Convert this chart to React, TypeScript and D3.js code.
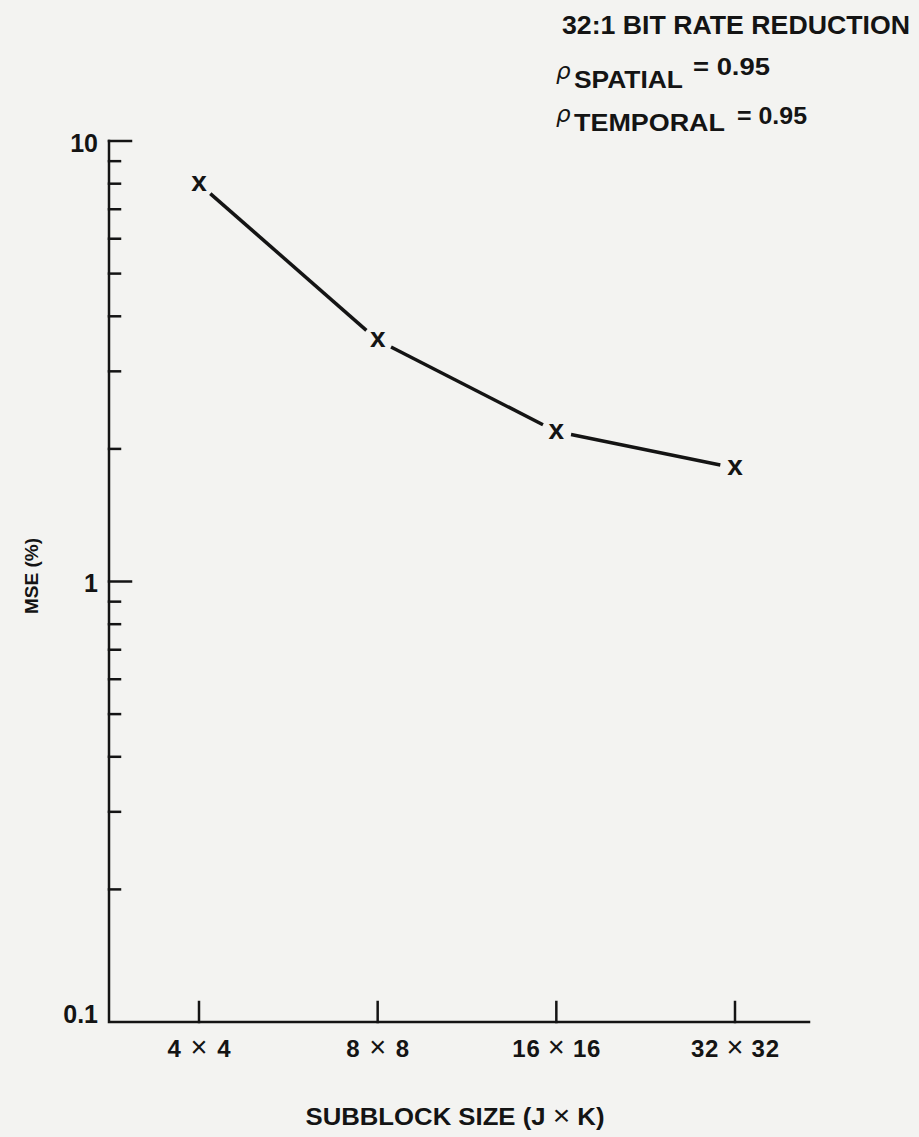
import { useEffect } from 'react'
import * as d3 from 'd3'

const categories = ['4 × 4', '8 × 8', '16 × 16', '32 × 32']
const mse = [8.0, 3.53, 2.19, 1.81]
const yMajor = [0.1, 1, 10]
const yLabels = ['0.1', '1', '10']

const W = 919
const H = 1137
const INK = '#141414'
const FONT = '"Liberation Sans", Arial, Helvetica, sans-serif'
const GREEK = '"DejaVu Sans", sans-serif'

export default function App() {
  useEffect(() => {
    document.body.style.margin = '0'
  }, [])

  const axisX = 109
  const axisRight = 809
  const y = d3.scaleLog().domain([0.1, 10]).range([1022, 141])
  const x = d3.scalePoint<string>().domain(categories).range([199, 735]).padding(0)

  const minor = y.ticks().filter((t) => !yMajor.some((m) => Math.abs(m - t) < 1e-9))
  const pts = categories.map((c, i) => [x(c) as number, y(mse[i])] as [number, number])

  // line segments with gaps round the "x" markers
  const gap = 15
  const segs = d3.pairs(pts).map(([a, b]) => {
    const dx = b[0] - a[0]
    const dy = b[1] - a[1]
    const len = Math.hypot(dx, dy)
    const ux = dx / len
    const uy = dy / len
    return [
      [a[0] + ux * gap, a[1] + uy * gap],
      [b[0] - ux * gap, b[1] - uy * gap],
    ] as [number, number][]
  })
  const line = d3.line()

  return (
    <svg width={W} height={H} style={{ display: 'block' }} fontFamily={FONT}>
      <rect width={W} height={H} fill="#f3f3f1" />

      {/* annotation */}
      <g fill={INK} fontWeight="bold">
        <text x={562} y={34} fontSize={26} textLength={348} lengthAdjust="spacingAndGlyphs">
          32:1 BIT RATE REDUCTION
        </text>
        <text x={556} y={79} fontSize={23} fontStyle="italic" fontWeight="normal" fontFamily={GREEK}>
          ρ
        </text>
        <text x={574} y={88} fontSize={23} textLength={109} lengthAdjust="spacingAndGlyphs">
          SPATIAL
        </text>
        <text x={693} y={75} fontSize={24} textLength={77} lengthAdjust="spacingAndGlyphs">
          = 0.95
        </text>
        <text x={556} y={122} fontSize={23} fontStyle="italic" fontWeight="normal" fontFamily={GREEK}>
          ρ
        </text>
        <text x={574} y={131} fontSize={23} textLength={151} lengthAdjust="spacingAndGlyphs">
          TEMPORAL
        </text>
        <text x={737} y={124} fontSize={24} textLength={70} lengthAdjust="spacingAndGlyphs">
          = 0.95
        </text>
      </g>

      {/* axes */}
      <g stroke={INK} strokeWidth={2.5} fill="none" strokeLinecap="square">
        <path d={`M${axisX},${y(10)} V${y(0.1)} H${axisRight}`} />
        {yMajor.slice(1).map((t) => (
          <line key={t} x1={axisX} x2={axisX + 22} y1={y(t)} y2={y(t)} />
        ))}
        {minor.map((t) => (
          <line key={t} x1={axisX} x2={axisX + 11} y1={y(t)} y2={y(t)} />
        ))}
        {categories.map((c) => (
          <line key={c} x1={x(c)} x2={x(c)} y1={y(0.1)} y2={y(0.1) - 20} />
        ))}
      </g>

      <g fill={INK} fontWeight="bold" fontSize={25} textAnchor="end">
        {yMajor.map((t, i) => (
          <text key={t} x={98} y={y(t)} dy={i === 0 ? '0.05em' : '0.42em'}>
            {yLabels[i]}
          </text>
        ))}
      </g>

      <g fill={INK} fontWeight="bold" fontSize={24} textAnchor="middle">
        {categories.map((c) => {
          const [a, b] = c.split(' × ')
          return (
            <text key={c} x={x(c)} y={1057} textLength={a.length > 1 ? 88 : 63} lengthAdjust="spacing">
              <tspan>{a} </tspan>
              <tspan fontWeight="normal" fontSize={29}>×</tspan>
              <tspan> {b}</tspan>
            </text>
          )
        })}
      </g>

      <text
        x={455}
        y={1125}
        fill={INK}
        fontWeight="bold"
        fontSize={24}
        textAnchor="middle"
        textLength={299}
        lengthAdjust="spacingAndGlyphs"
      >
        SUBBLOCK SIZE (J <tspan fontWeight="normal" fontSize={28}>×</tspan> K)
      </text>

      <text
        transform={`translate(38,576) rotate(-90)`}
        fill={INK}
        fontWeight="bold"
        fontSize={19}
        textAnchor="middle"
      >
        MSE (%)
      </text>

      {/* data */}
      <g stroke={INK} strokeWidth={3.5} fill="none">
        {segs.map((s, i) => (
          <path key={i} d={line(s) ?? ''} />
        ))}
      </g>
      <g fill={INK} fontWeight="bold" fontSize={28} textAnchor="middle">
        {pts.map((p, i) => (
          <text key={i} x={p[0]} y={p[1]} dy="0.26em">
            x
          </text>
        ))}
      </g>
    </svg>
  )
}
